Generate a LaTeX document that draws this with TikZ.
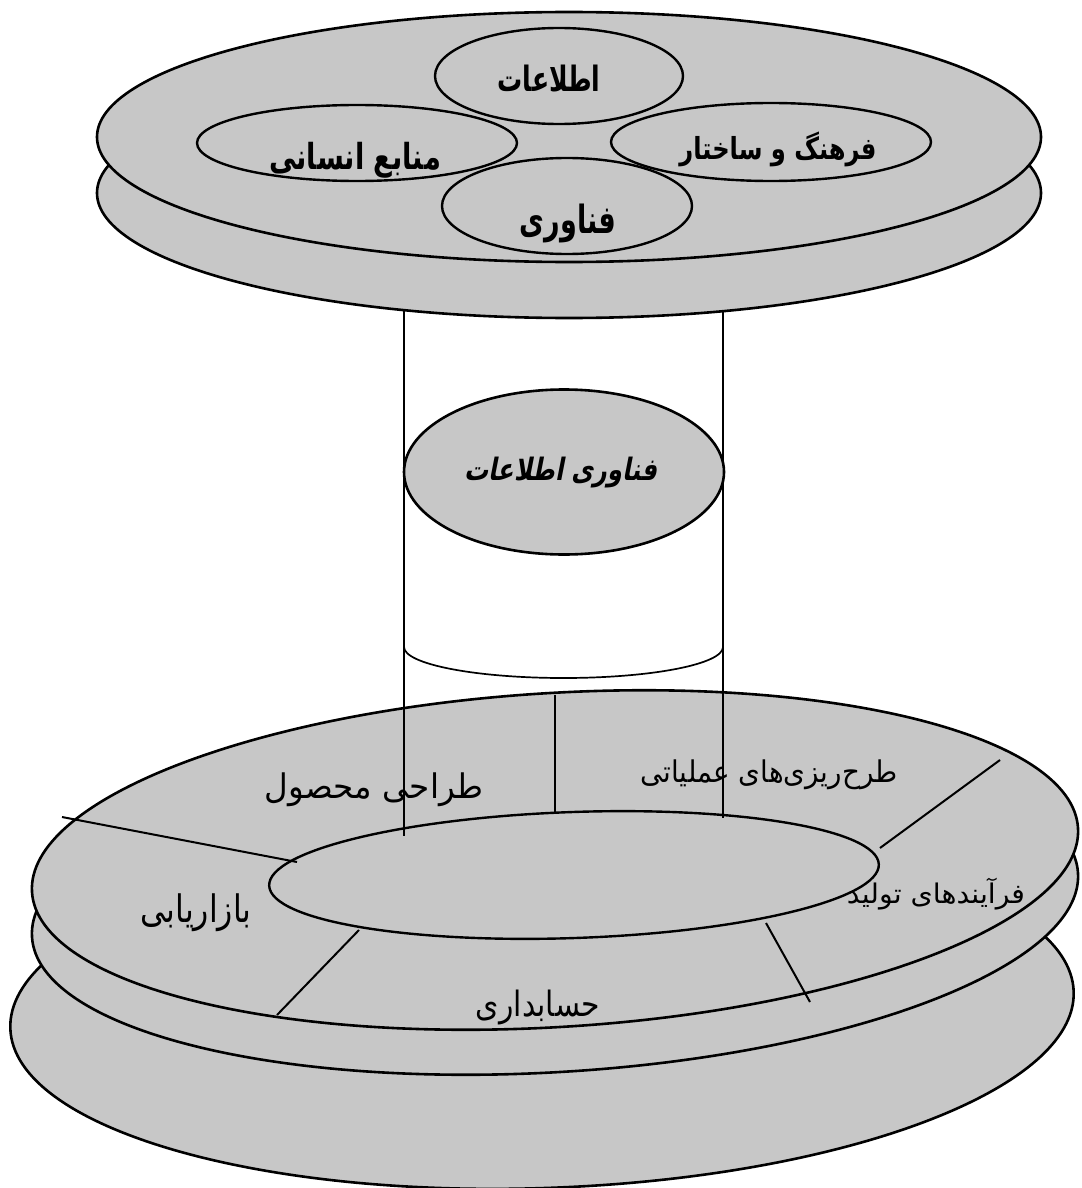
\documentclass[tikz,border=0pt]{standalone}
\usepackage{fontspec}
\usepackage{graphicx}
\usetikzlibrary{shapes.geometric}
\TeXXeTstate=1
\newfontfamily\arabicfont[Script=Arabic]{DejaVu Sans}
\newfontfamily\arabicslant[Script=Arabic,FakeSlant=0.25]{DejaVu Sans}
% #1 width, #2 total height, #3 text
\newcommand\fatxt[3]{\resizebox*{#1pt}{#2pt}{\arabicfont #3}}
\newcommand\fabold[3]{\resizebox*{#1pt}{#2pt}{\arabicfont\bfseries #3}}
\newcommand\faslant[3]{\resizebox*{#1pt}{#2pt}{\arabicslant\bfseries #3}}
\definecolor{diskgray}{gray}{0.78}
\tikzset{
  disk/.style={ellipse, draw=black, line width=2.6pt, fill=diskgray, inner sep=0pt, outer sep=0pt},
  ring/.style={ellipse, draw=black, line width=2.4pt, inner sep=0pt, outer sep=0pt},
  divider/.style={draw=black, line width=2pt},
  pillar/.style={draw=black, line width=1.7pt},
  lbl/.style={inner sep=0pt, text=black}
}
\begin{document}
\begin{tikzpicture}[x=1pt,y=-1pt]
\useasboundingbox (0,0) rectangle (1081,1188);
\fill[white] (0,0) rectangle (1081,1188);

% ---- lower stack ----
\node[disk, minimum width=1064pt, minimum height=356pt, rotate=2] (E3) at (542,1010) {};
\node[disk, minimum width=1048pt, minimum height=334pt, rotate=3.5] (E2) at (555,905) {};
\node[disk, minimum width=1048pt, minimum height=334pt, rotate=3.5] (E1) at (555,860) {};
\node[ring, minimum width=610pt, minimum height=126pt, rotate=2] (core) at (574,875) {};

\coordinate (d1a) at (555,695);  \coordinate (d1b) at (555,812);
\coordinate (d2a) at (1000,760); \coordinate (d2b) at (880,848);
\coordinate (d3a) at (766,923);  \coordinate (d3b) at (810,1002);
\coordinate (d4a) at (359,930);  \coordinate (d4b) at (277,1015);
\coordinate (d5a) at (62,817);   \coordinate (d5b) at (297,862);
\draw[divider] (d1a) -- (d1b);
\draw[divider] (d2a) -- (d2b);
\draw[divider] (d3a) -- (d3b);
\draw[divider] (d4a) -- (d4b);
\draw[divider] (d5a) -- (d5b);

% ---- pillar ----
\coordinate (pLt) at (404,300); \coordinate (pLb) at (404,836);
\coordinate (pRt) at (723,300); \coordinate (pRb) at (723,818);
\draw[pillar] (pLt) -- (pLb);
\draw[pillar] (pRt) -- (pRb);
\coordinate (cylL) at (404,647);
\draw[pillar] (cylL) arc[start angle=180, end angle=360, x radius=159.5pt, y radius=31pt];

% lower labels
\node[lbl] (tPD) at (374,790) {\fatxt{218}{34}{\beginR طراحی محصول\endR}};
\node[lbl] (tOP) at (769,775) {\fatxt{257}{30}{\beginR طرح‌ریزی‌های عملیاتی\endR}};
\node[lbl] (tMK) at (196,913) {\fatxt{111}{38}{\beginR بازاریابی\endR}};
\node[lbl] (tPR) at (936,894) {\fatxt{178}{32}{\beginR فرآیندهای تولید\endR}};
\node[lbl] (tAC) at (538,1007) {\fatxt{124}{35}{\beginR حسابداری\endR}};

% ---- IT ellipse ----
\node[disk, minimum width=320pt, minimum height=165pt] (IT) at (564,472) {};
\node[lbl] (tIT) at (561,473) {\faslant{193}{31}{\beginR فناوری اطلاعات\endR}};

% ---- top stack ----
\node[disk, minimum width=944pt, minimum height=250pt] (T2) at (569,193) {};
\node[disk, minimum width=944pt, minimum height=250pt] (T1) at (569,137) {};
\node[ring, minimum width=248pt, minimum height=96pt] (info) at (559,76) {};
\node[ring, minimum width=320pt, minimum height=76pt] (hr) at (357,143) {};
\node[ring, minimum width=320pt, minimum height=78pt] (cult) at (771,142) {};
\node[ring, minimum width=250pt, minimum height=96pt] (tech) at (567,206) {};

\node[lbl] (tInfo) at (549,79) {\fabold{103}{27}{\beginR اطلاعات\endR}};
\node[lbl] (tHR) at (355,160) {\fabold{172}{36}{\beginR منابع انسانی\endR}};
\node[lbl] (tCult) at (778,149) {\fabold{197}{35}{\beginR فرهنگ و ساختار\endR}};
\node[lbl] (tTech) at (568,223) {\fabold{96}{39}{\beginR فناوری\endR}};
\end{tikzpicture}
\end{document}
